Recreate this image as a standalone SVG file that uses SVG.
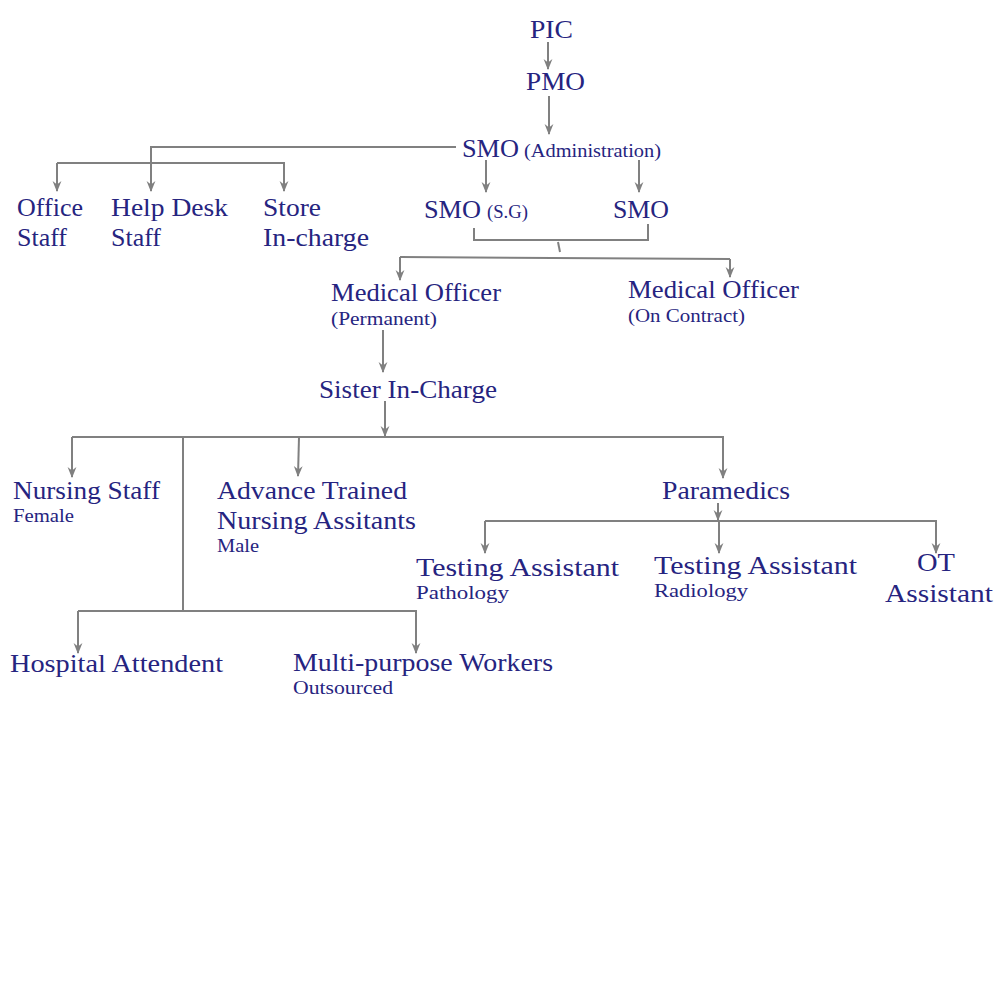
<svg xmlns="http://www.w3.org/2000/svg" width="1000" height="1000" viewBox="0 0 1000 1000">
<defs>
<marker id="ah" viewBox="0 0 10 10" refX="9" refY="5" markerWidth="11" markerHeight="11" markerUnits="userSpaceOnUse" orient="auto">
<path d="M0,1 L10,5 L0,9 L3,5 z" fill="#808080"/>
</marker>
<style>
.t{font-family:"Liberation Serif","DejaVu Serif",serif;font-size:25.5px;fill:#262480}
.s{font-family:"Liberation Serif","DejaVu Serif",serif;font-size:18px;fill:#262480}
.c{fill:none;stroke:#808080;stroke-width:2}
.a{fill:none;stroke:#808080;stroke-width:2;marker-end:url(#ah)}
</style>
</defs>
<rect width="1000" height="1000" fill="#fff"/>
<g id="connectors">
<line class="a" x1="548" y1="42" x2="548" y2="69"/>
<line class="a" x1="549" y1="96" x2="549" y2="134"/>
<polyline class="c" points="456,147 151,147 151,163"/>
<line class="c" x1="57" y1="163" x2="285" y2="163"/>
<line class="a" x1="57" y1="163" x2="57" y2="191"/>
<line class="a" x1="151" y1="163" x2="151" y2="191"/>
<line class="a" x1="284" y1="163" x2="284" y2="191"/>
<line class="a" x1="486" y1="160" x2="486" y2="192"/>
<line class="a" x1="639" y1="160" x2="639" y2="192"/>
<polyline class="c" points="474,228 474,240 648,240 648,224"/>
<line class="c" x1="558" y1="242" x2="560" y2="252"/>
<line class="c" x1="400" y1="257" x2="730" y2="259"/>
<line class="a" x1="400" y1="257" x2="400" y2="280"/>
<line class="a" x1="730" y1="259" x2="730" y2="277"/>
<line class="a" x1="383" y1="330" x2="383" y2="372"/>
<line class="a" x1="385" y1="401" x2="385" y2="436"/>
<line class="c" x1="72" y1="437" x2="724" y2="437"/>
<line class="a" x1="72" y1="437" x2="72" y2="477"/>
<line class="a" x1="299" y1="437" x2="298" y2="476"/>
<line class="a" x1="723" y1="437" x2="723" y2="478"/>
<line class="c" x1="183" y1="437" x2="183" y2="611"/>
<line class="c" x1="78" y1="611" x2="417" y2="611"/>
<line class="a" x1="78" y1="611" x2="78" y2="653"/>
<line class="a" x1="416" y1="611" x2="416" y2="653"/>
<line class="a" x1="718" y1="503" x2="718" y2="520"/>
<line class="c" x1="485" y1="521" x2="937" y2="521"/>
<line class="a" x1="485" y1="521" x2="485" y2="553"/>
<line class="a" x1="719" y1="521" x2="719" y2="553"/>
<line class="a" x1="936" y1="521" x2="936" y2="553"/>
</g>
<g id="pic"><text class="t" x="530" y="38" textLength="43" lengthAdjust="spacingAndGlyphs">PIC</text></g>
<g id="pmo"><text class="t" x="526" y="90" textLength="59" lengthAdjust="spacingAndGlyphs">PMO</text></g>
<g id="smo-admin"><text class="t" x="462" y="157" textLength="57" lengthAdjust="spacingAndGlyphs">SMO</text><text class="s" x="524" y="157" textLength="137" lengthAdjust="spacingAndGlyphs">(Administration)</text></g>
<g id="office-staff"><text class="t" x="17" y="216" textLength="66" lengthAdjust="spacingAndGlyphs">Office</text><text class="t" x="17" y="246" textLength="50" lengthAdjust="spacingAndGlyphs">Staff</text></g>
<g id="help-desk"><text class="t" x="111" y="216" textLength="117" lengthAdjust="spacingAndGlyphs">Help Desk</text><text class="t" x="111" y="246" textLength="50" lengthAdjust="spacingAndGlyphs">Staff</text></g>
<g id="store"><text class="t" x="263" y="216" textLength="58" lengthAdjust="spacingAndGlyphs">Store</text><text class="t" x="263" y="246" textLength="106" lengthAdjust="spacingAndGlyphs">In-charge</text></g>
<g id="smo-sg"><text class="t" x="424" y="218" textLength="57" lengthAdjust="spacingAndGlyphs">SMO</text><text class="s" x="487" y="218" textLength="41" lengthAdjust="spacingAndGlyphs">(S.G)</text></g>
<g id="smo"><text class="t" x="613" y="218" textLength="56" lengthAdjust="spacingAndGlyphs">SMO</text></g>
<g id="mo-perm"><text class="t" x="331" y="301" textLength="170" lengthAdjust="spacingAndGlyphs">Medical Officer</text><text class="s" x="331" y="325" textLength="106" lengthAdjust="spacingAndGlyphs">(Permanent)</text></g>
<g id="mo-contract"><text class="t" x="628" y="298" textLength="171" lengthAdjust="spacingAndGlyphs">Medical Officer</text><text class="s" x="628" y="322" textLength="117" lengthAdjust="spacingAndGlyphs">(On Contract)</text></g>
<g id="sister"><text class="t" x="319" y="398" textLength="178" lengthAdjust="spacingAndGlyphs">Sister In-Charge</text></g>
<g id="nursing-staff"><text class="t" x="13" y="499" textLength="147" lengthAdjust="spacingAndGlyphs">Nursing Staff</text><text class="s" x="13" y="522" textLength="61" lengthAdjust="spacingAndGlyphs">Female</text></g>
<g id="advance-trained"><text class="t" x="217" y="499" textLength="190" lengthAdjust="spacingAndGlyphs">Advance Trained</text><text class="t" x="217" y="529" textLength="199" lengthAdjust="spacingAndGlyphs">Nursing Assitants</text><text class="s" x="217" y="552" textLength="42" lengthAdjust="spacingAndGlyphs">Male</text></g>
<g id="paramedics"><text class="t" x="662" y="499" textLength="128" lengthAdjust="spacingAndGlyphs">Paramedics</text></g>
<g id="testing-path"><text class="t" x="416" y="576" textLength="203" lengthAdjust="spacingAndGlyphs">Testing Assistant</text><text class="s" x="416" y="599" textLength="93" lengthAdjust="spacingAndGlyphs">Pathology</text></g>
<g id="testing-rad"><text class="t" x="654" y="574" textLength="203" lengthAdjust="spacingAndGlyphs">Testing Assistant</text><text class="s" x="654" y="597" textLength="94" lengthAdjust="spacingAndGlyphs">Radiology</text></g>
<g id="ot"><text class="t" x="917" y="571" textLength="38" lengthAdjust="spacingAndGlyphs">OT</text><text class="t" x="885" y="602" textLength="108" lengthAdjust="spacingAndGlyphs">Assistant</text></g>
<g id="hospital-attendent"><text class="t" x="10" y="672" textLength="213" lengthAdjust="spacingAndGlyphs">Hospital Attendent</text></g>
<g id="mpw"><text class="t" x="293" y="671" textLength="260" lengthAdjust="spacingAndGlyphs">Multi-purpose Workers</text><text class="s" x="293" y="694" textLength="100" lengthAdjust="spacingAndGlyphs">Outsourced</text></g>
</svg>
